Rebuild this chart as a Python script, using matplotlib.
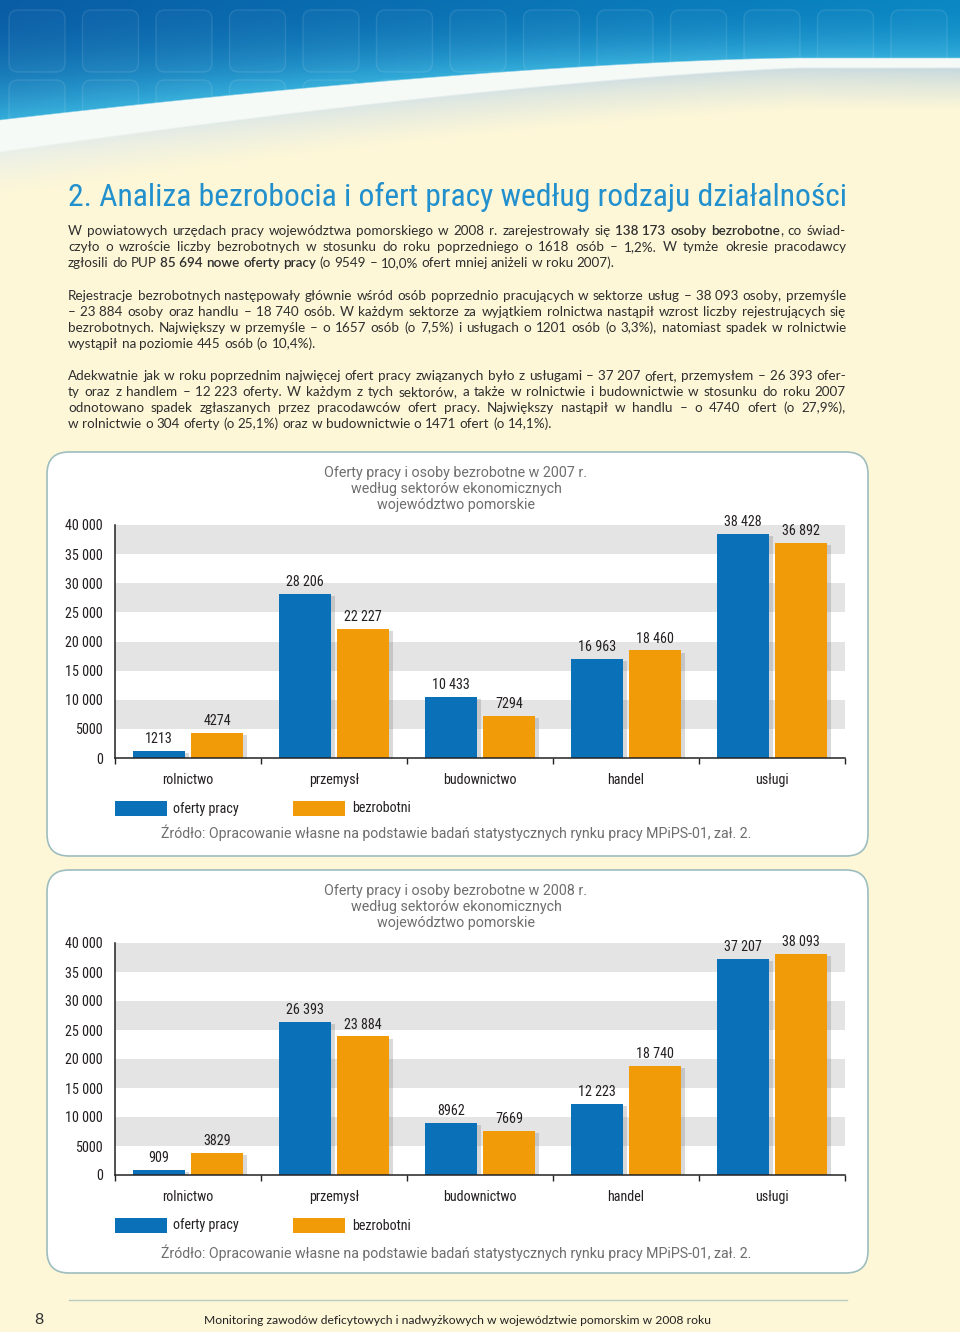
import os
import numpy as np
import matplotlib
matplotlib.use("Agg")
import matplotlib.pyplot as plt
from matplotlib.patches import FancyBboxPatch, Rectangle, Polygon
import matplotlib.patheffects as pe
from matplotlib import font_manager as fm

# ---------------- data ----------------
categories = ["rolnictwo", "przemysł", "budownictwo", "handel", "usługi"]
oferty_2007 = [1213, 28206, 10433, 16963, 38428]
bezrobotni_2007 = [4274, 22227, 7294, 18460, 36892]
oferty_2008 = [909, 26393, 8962, 12223, 37207]
bezrobotni_2008 = [3829, 23884, 7669, 18740, 38093]
y_ticks = [0, 5000, 10000, 15000, 20000, 25000, 30000, 35000, 40000]
series_labels = ["oferty pracy", "bezrobotni"]

title_2007 = ["Oferty pracy i osoby bezrobotne w 2007 r.",
              "według sektorów ekonomicznych",
              "województwo pomorskie"]
title_2008 = ["Oferty pracy i osoby bezrobotne w 2008 r.",
              "według sektorów ekonomicznych",
              "województwo pomorskie"]
source_text = "Źródło: Opracowanie własne na podstawie badań statystycznych rynku pracy MPiPS-01, zał. 2."
page_title = "2. Analiza bezrobocia i ofert pracy według rodzaju działalności"
footer_text = "Monitoring zawodów deficytowych i nadwyżkowych w województwie pomorskim w 2008 roku"
page_number = "8"

NB = "\u00a0"
paragraphs = [
    ["W powiatowych urzędach pracy województwa pomorskiego w 2008 r. zarejestrowały się **138" + NB + "173 osoby bezrobotne**, co świad-",
     "czyło o wzroście liczby bezrobotnych w stosunku do roku poprzedniego o 1618 osób – 1,2%. W tymże okresie pracodawcy",
     "zgłosili do PUP **85" + NB + "694 nowe oferty pracy** (o 9549 – 10,0% ofert mniej aniżeli w roku 2007)."],
    ["Rejestracje bezrobotnych następowały głównie wśród osób poprzednio pracujących w sektorze usług – 38" + NB + "093 osoby, przemyśle",
     "– 23" + NB + "884 osoby oraz handlu – 18" + NB + "740 osób. W każdym sektorze za wyjątkiem rolnictwa nastąpił wzrost liczby rejestrujących się",
     "bezrobotnych. Największy w przemyśle – o 1657 osób (o 7,5%) i usługach o 1201 osób (o 3,3%), natomiast spadek w rolnictwie",
     "wystąpił na poziomie 445 osób (o 10,4%)."],
    ["Adekwatnie jak w roku poprzednim najwięcej ofert pracy związanych było z usługami – 37" + NB + "207 ofert, przemysłem – 26" + NB + "393 ofer-",
     "ty oraz z handlem – 12" + NB + "223 oferty. W każdym z tych sektorów, a także w rolnictwie i budownictwie w stosunku do roku 2007",
     "odnotowano spadek zgłaszanych przez pracodawców ofert pracy. Największy nastąpił w handlu – o 4740 ofert (o 27,9%),",
     "w rolnictwie o 304 oferty (o 25,1%) oraz w budownictwie o 1471 ofert (o 14,1%)."],
]

# ---------------- style ----------------
W, H = 960, 1332
CREAM = "#FDF7D8"
BLUE = "#0A71B9"
ORANGE = "#F29B09"
BAND = "#E4E4E4"
BORDER = "#9DBDBF"
TXT = "#231F20"
GRAY = "#6E6E6E"
TITLE_BLUE = "#2290CD"


def has_font(name):
    try:
        fm.findfont(fm.FontProperties(family=name), fallback_to_default=False)
        return True
    except Exception:
        return False


def find_condensed():
    wanted = ["liberationsansnarrow-regular", "robotocondensed-regular", "notosans-condensed.",
              "dejavusanscondensed.", "opensans-condensedregular", "opensans_condensed-regular"]
    files = [f.fname for f in fm.fontManager.ttflist]
    for w in wanted:
        for fn in files:
            if os.path.basename(fn).lower().startswith(w):
                return fm.FontProperties(fname=fn)
    return fm.FontProperties(family="Roboto")


COND = find_condensed()
BODY = "Lato" if has_font("Lato") else "DejaVu Sans"
ROB = fm.FontProperties(family="Roboto")

fig = plt.figure(figsize=(W / 100, H / 100), dpi=100)
fig.patch.set_facecolor(CREAM)
bg = fig.add_axes([0, 0, 1, 1])
bg.set_xlim(0, W)
bg.set_ylim(H, 0)
bg.axis("off")
R = fig.canvas.get_renderer()


def rgb(h):
    h = h.lstrip("#")
    return np.array([int(h[i:i + 2], 16) / 255 for i in (0, 2, 4)])


# ---------------- header ----------------
HH = 210
hx = (np.arange(W) + 0.5)[None, :]
hy = (np.arange(HH) + 0.5)[:, None]
u = np.clip(1 - hx / 800, 0, None)
yc = 58 + 62 * u ** 1.5
bw = 10 + 22 * u
fxr = (hx / W)[..., None]
ctop = rgb("#095DA5") * (1 - fxr) + rgb("#0B88C4") * fxr
t = (np.clip(hy / yc, 0, 1) ** 2)[..., None]
blue = ctop * (1 - t) + rgb("#34AEDB") * t
white = rgb("#F6FAF7")
shade = rgb("#E9EFE9") * (1 - fxr) + rgb("#C4D7DE") * fxr
d = hy - (yc + bw)
s = np.clip(d / 42, 0, 1)[..., None] ** 0.8
below = shade * (1 - s) + rgb(CREAM) * s
a = np.clip((hy - yc) / 1.5 + 0.5, 0, 1)[..., None]
b = np.clip((hy - (yc + bw)) / 2.0 + 0.5, 0, 1)[..., None]
img = blue * (1 - a) + white * a
img = img * (1 - b) + below * b
bg.imshow(img, extent=[0, W, HH, 0], aspect="auto", zorder=0, interpolation="bilinear")
bg.set_xlim(0, W)
bg.set_ylim(H, 0)

xs = np.linspace(0, W, 200)
ycs = 58 + 62 * np.clip(1 - xs / 800, 0, None) ** 1.5
clip_poly = Polygon(np.vstack([[[0, 0], [W, 0]], np.column_stack([xs[::-1], ycs[::-1]])]),
                    closed=True, transform=bg.transData)
for row_y in (10, 80):
    for i in range(13):
        tx = 9 + i * 73.5
        tile = FancyBboxPatch((tx, row_y), 56, 62, boxstyle="round,pad=0,rounding_size=9",
                              fc=(1, 1, 1, 0.025), ec=(1, 1, 1, 0.10), lw=1.0, zorder=1)
        bg.add_patch(tile)
        tile.set_clip_path(clip_poly)


def fit_text(x, y, s_, width, fp, base=10, **kw):
    tt = bg.text(x, y, s_, fontproperties=fp, fontsize=base, **kw)
    w = tt.get_window_extent(renderer=R).width
    tt.set_fontsize(base * width / w)
    return tt


fit_text(68, 206, page_title, 773, COND, color=TITLE_BLUE, va="baseline", ha="left", zorder=3)

# ---------------- body text ----------------
def parse_tokens(line, state):
    toks = []
    for tok in line.split(" "):
        parts = tok.split("**")
        pieces = []
        for j, p in enumerate(parts):
            if j > 0:
                state = not state
            if p:
                pieces.append((p, state))
        toks.append(pieces)
    return toks, state


def layout_body(size, draw):
    maxw = 0
    baselines = [[235, 251, 267], [300, 316, 332, 348], [380, 396, 412, 428]]
    for para, bls in zip(paragraphs, baselines):
        state = False
        for li, (line, yb) in enumerate(zip(para, bls)):
            toks, state = parse_tokens(line, state)
            arts = []
            widths = []
            for pieces in toks:
                pa = []
                tw = 0
                for p, bold in pieces:
                    ta = bg.text(0, yb, p, fontsize=size, family=BODY, color="#2E2E2E",
                                 fontweight="semibold" if bold else "normal", va="baseline", ha="left", zorder=3)
                    w = ta.get_window_extent(renderer=R).width
                    pa.append((ta, w))
                    tw += w
                arts.append(pa)
                widths.append(tw)
            sp_t = bg.text(0, 0, "n n", fontsize=size, family=BODY)
            nn_t = bg.text(0, 0, "nn", fontsize=size, family=BODY)
            space = sp_t.get_window_extent(renderer=R).width - nn_t.get_window_extent(renderer=R).width
            sp_t.remove(); nn_t.remove()
            natural = sum(widths) + space * (len(widths) - 1)
            last = li == len(para) - 1
            if not last:
                maxw = max(maxw, natural)
            if not draw:
                for pa in arts:
                    for ta, _ in pa:
                        ta.remove()
                continue
            gap = space if last else (778 - sum(widths)) / (len(widths) - 1)
            x = 68
            for pa, tw in zip(arts, widths):
                xx = x
                for ta, w in pa:
                    ta.set_x(xx)
                    xx += w
                x += tw + gap
    return maxw


mw = layout_body(10, False)
body_size = 10 * 768 / mw
layout_body(body_size, True)

# ---------------- charts ----------------
def fmt(v):
    return f"{v:,}".replace(",", " ") if v >= 10000 else str(v)


CH_FS = 10.2 if "roboto" in str(COND.get_file() or "").lower() or COND.get_file() is None else 11.0


def draw_chart(box_top, box_bot, y_zero, y_top, titles, title_y0, oferty, bezrob, legend_y, source_y):
    box = FancyBboxPatch((47, box_top), 821, box_bot - box_top,
                         boxstyle="round,pad=0,rounding_size=22",
                         fc="white", ec=BORDER, lw=1.2, zorder=1)
    bg.add_patch(box)
    # titles
    t0 = fit_text(456, title_y0, titles[0], 263, ROB, color=GRAY, ha="center", va="center", zorder=3)
    fs = t0.get_fontsize()
    for k, tl in enumerate(titles[1:], start=1):
        bg.text(456, title_y0 + 16 * k, tl, fontproperties=ROB, fontsize=fs, color=GRAY,
                ha="center", va="center", zorder=3)
    ax = fig.add_axes([115 / W, 1 - y_zero / H, 730 / W, (y_zero - y_top) / H])
    ax.set_facecolor("none")
    ax.set_xlim(-0.5, len(categories) - 0.5)
    ax.set_ylim(0, 40000)
    for lo in (5000, 15000, 25000, 35000):
        ax.axhspan(lo, lo + 5000, color=BAND, lw=0, zorder=0)
    x = np.arange(len(categories))
    shadow = [pe.SimplePatchShadow(offset=(2.5, -1.5), shadow_rgbFace="#777777", alpha=0.28), pe.Normal()]
    ax.bar(x - 0.2, oferty, 0.36, color=BLUE, zorder=2, path_effects=shadow)
    ax.bar(x + 0.2, bezrob, 0.36, color=ORANGE, zorder=2, path_effects=shadow)
    for xs_, vals in ((x - 0.2, oferty), (x + 0.2, bezrob)):
        for xi, v in zip(xs_, vals):
            ax.annotate(fmt(v), (xi, v), xytext=(0, 3.5), textcoords="offset points",
                        ha="center", va="bottom", fontproperties=COND, fontsize=CH_FS, color=TXT)
    ax.set_yticks(y_ticks)
    ax.set_yticklabels([fmt(v) for v in y_ticks], fontproperties=COND, fontsize=CH_FS, color=TXT)
    ax.tick_params(axis="y", length=0, pad=8.6)
    ax.set_xticks(x)
    ax.set_xticklabels(categories, fontproperties=COND, fontsize=CH_FS, color=TXT)
    ax.set_xticks(np.arange(-0.5, len(categories), 1), minor=True)
    ax.tick_params(axis="x", which="major", length=0, pad=10.5)
    ax.tick_params(axis="x", which="minor", length=4, width=1, direction="out", color="#222222")
    for sp in ("top", "right"):
        ax.spines[sp].set_visible(False)
    for sp in ("left", "bottom"):
        ax.spines[sp].set_color("#222222")
        ax.spines[sp].set_linewidth(1.1)
    # legend
    for (lx, tx_), col, lab in zip(((115, 173), (293, 352)), (BLUE, ORANGE), series_labels):
        bg.add_patch(Rectangle((lx, legend_y - 7.5), 52, 15, fc=col, ec="none", zorder=3))
        bg.text(tx_, legend_y, lab, fontproperties=COND, fontsize=CH_FS, color=TXT,
                ha="left", va="center", zorder=3)
    fit_text(456, source_y, source_text, 589, ROB, color=GRAY, ha="center", va="center", zorder=3)
    return ax


draw_chart(452, 856, 758, 525, title_2007, 473, oferty_2007, bezrobotni_2007, 808.5, 833)
draw_chart(870, 1273, 1175, 943, title_2008, 891, oferty_2008, bezrobotni_2008, 1225.5, 1253)

# ---------------- footer ----------------
bg.plot([69, 847], [1300, 1300], color="#B8CBC4", lw=1.0, zorder=2)
bg.text(39, 1320, page_number, fontsize=11.5, family=BODY, color="#333333", ha="center", va="center")
fit_text(457, 1320, footer_text, 508, fm.FontProperties(family=BODY), color="#222222", ha="center", va="center")

fig.savefig("out.png", dpi=100, facecolor=CREAM)
